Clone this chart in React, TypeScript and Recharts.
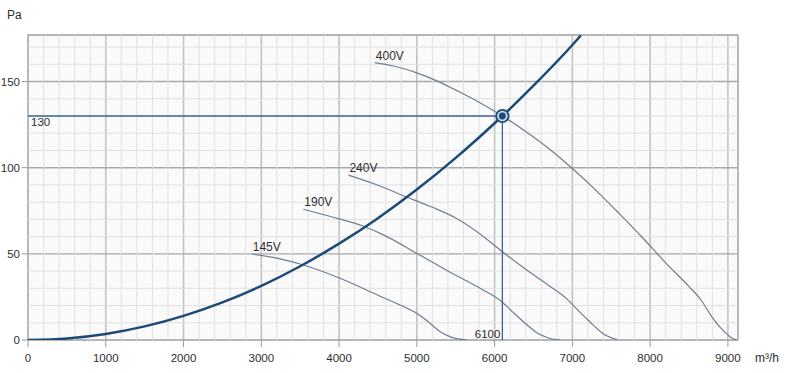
import React from 'react';
import {
  ComposedChart,
  Line,
  XAxis,
  YAxis,
  CartesianGrid,
  ReferenceArea,
  ReferenceLine,
  LabelList,
  Label,
} from 'recharts';

const FONT = '"Liberation Sans", Arial, Helvetica, sans-serif';
const TEXT = '#2e2e2e';

const X_MAX = 9130;
const Y_MAX = 177;

const majorXTicks = [0, 1000, 2000, 3000, 4000, 5000, 6000, 7000, 8000, 9000];
const majorYTicks = [0, 50, 100, 150];
const minorXLines = [
  200, 400, 600, 800, 1200, 1400, 1600, 1800, 2200, 2400, 2600, 2800,
  3200, 3400, 3600, 3800, 4200, 4400, 4600, 4800, 5200, 5400, 5600,
  5800, 6200, 6400, 6600, 6800, 7200, 7400, 7600, 7800, 8200, 8400,
  8600, 8800,
];
const minorYLines = [10, 20, 30, 40, 60, 70, 80, 90, 110, 120, 130, 140, 160, 170];

// System curve
const sysFlow = [0, 500, 1000, 1500, 2000, 2500, 3000, 3500, 4000, 4500, 5000, 5500, 6000, 6100, 6500, 7000, 7110];
const sysPa = [0, 0.9, 3.5, 7.9, 14, 21.8, 31.4, 42.8, 55.9, 70.7, 87.3, 105.7, 125.8, 130, 147.6, 171.2, 176.8];

// Fan curves
const flow400 = [4460, 4700, 5000, 5250, 5500, 5800, 6100, 6400, 6700, 7000, 7300, 7600, 7900, 8200, 8500, 8650, 8800, 8950, 9050, 9115];
const pa400 = [161, 159, 155, 150.5, 145, 138, 130, 121, 111, 99.5, 87, 73.5, 59.5, 44.8, 31, 23.5, 13, 5, 1.2, 0];

const flow240 = [4120, 4440, 4870, 5200, 5500, 5800, 6100, 6400, 6700, 6925, 7100, 7224, 7400, 7590];
const pa240 = [95.7, 90.8, 83, 77, 70.8, 62, 51.2, 41, 31.5, 24, 16, 10.6, 3.5, 0];

const flow190 = [3540, 3900, 4313, 4570, 5000, 5400, 5814, 6093, 6250, 6371, 6550, 6700, 6843];
const pa190 = [75.9, 71.5, 66, 61, 50.3, 40, 30, 22.2, 15.5, 10.6, 4, 1, 0];

const flow145 = [2877, 3200, 3541, 4013, 4500, 4800, 5000, 5150, 5300, 5450, 5643];
const pa145 = [49.9, 47.5, 43.5, 35.8, 26, 20, 15.5, 10.5, 4.8, 1.5, 0];

// Operating point
const opFlow = 6100;
const opPa = 130;
const crossFlow = [0, opFlow, opFlow];
const crossPa = [opPa, opPa, 0];

const zip = (xs: number[], ys: number[]) => xs.map((x, i) => ({ x, y: ys[i] }));

const sysData = zip(sysFlow, sysPa);
const data400 = zip(flow400, pa400);
const data240 = zip(flow240, pa240);
const data190 = zip(flow190, pa190);
const data145 = zip(flow145, pa145);
const crossData = zip(crossFlow, crossPa);

const FAN_COLOR = '#6e7e90';
const SYS_COLOR = '#1c4a78';
const CROSS_COLOR = '#3d6590';
const MINOR_COLOR = '#e1e1e1';

const pos = (p: any) => {
  const x = p.x ?? p.viewBox?.x ?? 0;
  const y = p.y ?? p.viewBox?.y ?? 0;
  return { x, y };
};

const curveLabel = (text: string) => (p: any) => {
  if (p.index !== 0) return null;
  const { x, y } = pos(p);
  return (
    <text x={x + 1} y={y - 3} fontSize={12} fill={TEXT} fontFamily={FONT}>
      {text}
    </text>
  );
};

const crossLabel = (p: any) => {
  const { x, y } = pos(p);
  if (p.index === 0) {
    return (
      <text x={x + 3} y={y + 10.5} fontSize={11.5} fill={TEXT} fontFamily={FONT}>
        {String(opPa)}
      </text>
    );
  }
  if (p.index === 2) {
    return (
      <text x={x - 2} y={y - 2.5} fontSize={11.5} fill={TEXT} fontFamily={FONT} textAnchor="end">
        {String(opFlow)}
      </text>
    );
  }
  return null;
};

const opDot = (p: any) => {
  if (p.index !== 1) return <g key={`d${p.index}`} />;
  return (
    <g key="op">
      <circle cx={p.cx} cy={p.cy} r={6.2} fill="#c9d8ea" stroke={SYS_COLOR} strokeWidth={1.8} />
      <circle cx={p.cx} cy={p.cy} r={3.4} fill={SYS_COLOR} />
    </g>
  );
};

const tickStyle = { fontSize: 11.5, fill: TEXT, fontFamily: FONT };

export default function App() {
  return (
    <div style={{ position: 'absolute', left: 0, top: 0, width: 787, height: 373, background: '#ffffff' }}>
      <ComposedChart
        width={787}
        height={373}
        margin={{ top: 35, right: 49, bottom: 0, left: 0 }}
      >
        <XAxis
          dataKey="x"
          type="number"
          domain={[0, X_MAX]}
          ticks={majorXTicks}
          interval={0}
          tick={tickStyle}
          tickLine={{ stroke: '#9a9a9a' }}
          tickSize={7}
          tickMargin={7}
          axisLine={false}
          height={33}
          allowDataOverflow
        >
          <Label
            content={(p: any) => {
              const vb = p.viewBox || { x: 28, y: 340, width: 710 };
              return (
                <text x={vb.x + vb.width + 17} y={362.3} fontSize={12} fill={TEXT} fontFamily={FONT}>
                  m³/h
                </text>
              );
            }}
          />
        </XAxis>
        <YAxis
          dataKey="y"
          type="number"
          domain={[0, Y_MAX]}
          ticks={majorYTicks}
          interval={0}
          tick={tickStyle}
          tickLine={{ stroke: '#9a9a9a' }}
          tickSize={6}
          tickMargin={2}
          axisLine={false}
          width={28}
          allowDataOverflow
        >
          <Label
            content={() => (
              <text x={7} y={18.5} fontSize={12} fill={TEXT} fontFamily={FONT}>
                Pa
              </text>
            )}
          />
        </YAxis>

        <CartesianGrid horizontal={false} vertical={false} fill="#fafafa" />
        {minorXLines.map((v) => (
          <ReferenceLine key={`mx${v}`} x={v} stroke={MINOR_COLOR} strokeWidth={1} />
        ))}
        {minorYLines.map((v) => (
          <ReferenceLine key={`my${v}`} y={v} stroke={MINOR_COLOR} strokeWidth={1} />
        ))}
        <CartesianGrid horizontal={false} stroke="#c3c3c3" strokeWidth={1.6} />
        <CartesianGrid vertical={false} stroke="#a9a9a9" strokeWidth={1.4} />
        <ReferenceArea
          x1={0}
          x2={X_MAX}
          y1={0}
          y2={Y_MAX}
          fill="none"
          fillOpacity={0}
          stroke="#b3b3b3"
          strokeWidth={1.6}
        />

        <Line data={data145} dataKey="y" type="monotone" stroke={FAN_COLOR} strokeWidth={1.2} dot={false} isAnimationActive={false}>
          <LabelList dataKey="y" content={curveLabel('145V')} />
        </Line>
        <Line data={data190} dataKey="y" type="monotone" stroke={FAN_COLOR} strokeWidth={1.2} dot={false} isAnimationActive={false}>
          <LabelList dataKey="y" content={curveLabel('190V')} />
        </Line>
        <Line data={data240} dataKey="y" type="monotone" stroke={FAN_COLOR} strokeWidth={1.2} dot={false} isAnimationActive={false}>
          <LabelList dataKey="y" content={curveLabel('240V')} />
        </Line>
        <Line data={data400} dataKey="y" type="monotone" stroke={FAN_COLOR} strokeWidth={1.2} dot={false} isAnimationActive={false}>
          <LabelList dataKey="y" content={curveLabel('400V')} />
        </Line>
        <Line data={sysData} dataKey="y" type="monotone" stroke={SYS_COLOR} strokeWidth={2.5} dot={false} isAnimationActive={false} />
        <Line
          data={crossData}
          dataKey="y"
          type="linear"
          stroke={CROSS_COLOR}
          strokeWidth={1.3}
          dot={opDot}
          activeDot={false}
          isAnimationActive={false}
        >
          <LabelList dataKey="y" content={crossLabel} />
        </Line>
      </ComposedChart>
    </div>
  );
}
